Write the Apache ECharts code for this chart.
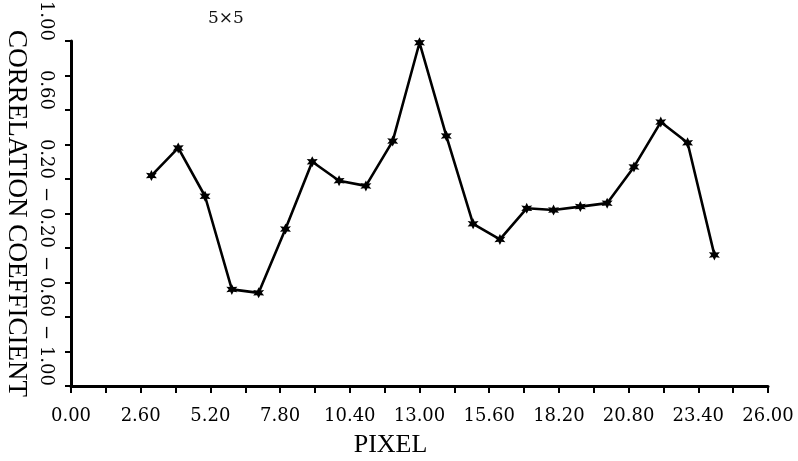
<!DOCTYPE html>
<html>
<head>
<meta charset="utf-8">
<script src="https://cdn.jsdelivr.net/npm/echarts@6/dist/echarts.min.js"></script>
<style>
  html, body { margin: 0; padding: 0; background: #fff; }
  #chart { width: 798px; height: 461px; }
</style>
</head>
<body>
<div id="chart"></div>
<script>
// pixel positions and correlation values
const pixels = [3, 4, 5, 6, 7, 8, 9, 10, 11, 12, 13, 14, 15, 16, 17, 18, 19, 20, 21, 22, 23, 24];
const coeffs = [0.22, 0.38, 0.10, -0.44, -0.46, -0.09, 0.30, 0.19, 0.16, 0.42, 0.99, 0.45,
  -0.06, -0.15, 0.03, 0.02, 0.04, 0.06, 0.27, 0.53, 0.41, -0.24];
const xStep = 1.3;   // tick spacing, every other tick labelled
const yStep = 0.2;

const star = "path://M0,-10 L2.5,-4.33 L8.66,-5 L5,0 L8.66,5 L2.5,4.33 L0,10 L-2.5,4.33 L-8.66,5 L-5,0 L-8.66,-5 L-2.5,-4.33 Z";
const serif = "Liberation Serif";
const numFont = "DejaVu Serif";

let chart = echarts.init(document.getElementById("chart"));
let option = {
  animation: false,
  title: {
    text: "5×5",
    left: 203,
    top: 5,
    textStyle: { fontFamily: numFont, fontSize: 17, fontWeight: "normal", color: "#111" }
  },
  grid: { left: 71, right: 30, top: 41, bottom: 75, containLabel: false, outerBoundsMode: "none" },
  xAxis: {
    type: "value",
    min: 0,
    max: 26,
    interval: xStep,
    name: "PIXEL",
    nameLocation: "middle",
    nameGap: 46,
    nameTextStyle: { fontFamily: serif, fontSize: 26, color: "#000", padding: [0, 58, 0, 0] },
    axisLine: { onZero: false, lineStyle: { color: "#000", width: 3 } },
    axisTick: { length: 7, lineStyle: { color: "#000", width: 2 } },
    axisLabel: {
      margin: 21,
      fontFamily: numFont,
      fontSize: 18,
      color: "#000",
      showMinLabel: true,
      showMaxLabel: true,
      formatter: function(v) {
        let k = Math.round(v / xStep);
        return k % 2 === 0 ? (k * xStep).toFixed(2) : "";
      }
    },
    splitLine: { show: false }
  },
  yAxis: {
    type: "value",
    min: -1,
    max: 1,
    interval: yStep,
    name: "CORRELATION COEFFICIENT",
    nameLocation: "middle",
    nameRotate: -90,
    nameGap: 20,
    nameTextStyle: { fontFamily: serif, fontSize: 27, color: "#000" },
    axisLine: { onZero: false, lineStyle: { color: "#000", width: 3 } },
    axisTick: { length: 6, lineStyle: { color: "#000", width: 2 } },
    axisLabel: {
      rotate: -90,
      align: "right",
      verticalAlign: "top",
      margin: 16,
      fontFamily: numFont,
      fontSize: 18,
      color: "#000",
      showMinLabel: true,
      showMaxLabel: true,
      formatter: function(v) {
        let k = Math.round((v + 1) / yStep);
        if (k % 2 !== 0) return "";
        let val = Math.round(v * 100) / 100;
        return val < 0 ? "\u2212 " + Math.abs(val).toFixed(2) : val.toFixed(2);
      }
    },
    splitLine: { show: false }
  },
  series: [
    {
      type: "line",
      data: pixels.map((p, i) => [p, coeffs[i]]),
      symbol: star,
      symbolSize: 11,
      itemStyle: { color: "#000" },
      lineStyle: { color: "#000", width: 2.6 }
    }
  ]
};
chart.setOption(option);
</script>
</body>
</html>
